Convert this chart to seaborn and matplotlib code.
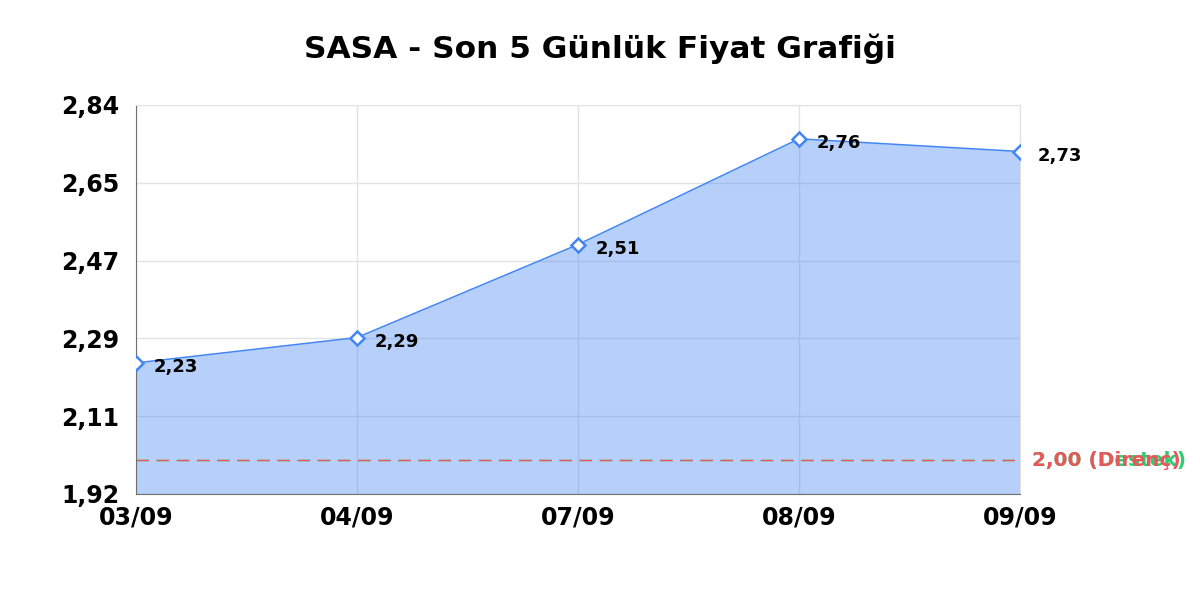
import matplotlib
matplotlib.use("Agg")
import matplotlib.pyplot as plt
import numpy as np
import pandas as pd
import seaborn as sns

# data
dates = ["03/09", "04/09", "07/09", "08/09", "09/09"]
prices = [2.23, 2.29, 2.51, 2.76, 2.73]
price_labels = ["2,23", "2,29", "2,51", "2,76", "2,73"]
support = 2.00
resistance = 2.00
ytick_labels = ["1,92", "2,11", "2,29", "2,47", "2,65", "2,84"]
ymin, ymax = 1.92, 2.84

df = pd.DataFrame({"date": dates, "price": prices})
df["idx"] = range(len(df))

sns.set_style("white")
plt.rcParams["font.family"] = ["DejaVu Sans"]

fig = plt.figure(figsize=(12, 6), dpi=100)
ax = fig.add_axes([0.1133, 0.1767, 0.7367, 0.6483])

line_color = "#4285f4"
ax.fill_between(df["idx"], df["price"], ymin, color=line_color, alpha=0.38,
                zorder=1, linewidth=0)
sns.lineplot(data=df, x="idx", y="price", ax=ax, color=line_color, linewidth=1.1,
             marker="D", markersize=7.5, markerfacecolor="white",
             markeredgecolor=line_color, markeredgewidth=1.8, zorder=3)

for i, (p, lab) in enumerate(zip(prices, price_labels)):
    ax.annotate(lab, (i, p), xytext=(13, -3), textcoords="offset points",
                ha="left", va="center", fontsize=13, fontweight="bold", color="black",
                zorder=4)

ax.axhline(support, color="#2ecc71", linestyle=(0, (9, 5.5)), linewidth=1, zorder=2)
ax.axhline(resistance, color="#e8585a", linestyle=(0, (9, 5.5)), linewidth=1, zorder=2)
ax.text(1.014, support, "2,00 (Destek)", transform=ax.get_yaxis_transform(),
        color="#2ecc71", fontsize=14.5, fontweight="bold", va="center", ha="left")
ax.text(1.014, resistance, "2,00 (Direnç)", transform=ax.get_yaxis_transform(),
        color="#e8585a", fontsize=14.5, fontweight="bold", va="center", ha="left")

ax.set_xlim(0, len(dates) - 1)
ax.set_ylim(ymin, ymax)
ax.set_xticks(df["idx"])
ax.set_xticklabels(dates)
ax.set_yticks(np.linspace(ymin, ymax, len(ytick_labels)))
ax.set_yticklabels(ytick_labels)
ax.tick_params(axis="both", length=0, labelsize=17, labelcolor="black")
ax.tick_params(axis="y", pad=12)
ax.tick_params(axis="x", pad=8)
for lab in ax.get_xticklabels() + ax.get_yticklabels():
    lab.set_fontweight("bold")

ax.grid(True, color="#e3e3e3", linewidth=1, zorder=0)
ax.set_axisbelow(True)
for side in ["top", "right"]:
    ax.spines[side].set_color("#e3e3e3")
for side in ["left", "bottom"]:
    ax.spines[side].set_color("#6f6f6f")
ax.set_xlabel("")
ax.set_ylabel("")

fig.suptitle("SASA - Son 5 Günlük Fiyat Grafiği", fontsize=22.5, fontweight="bold",
             color="black", y=0.945)

fig.savefig("out.png", dpi=100)
